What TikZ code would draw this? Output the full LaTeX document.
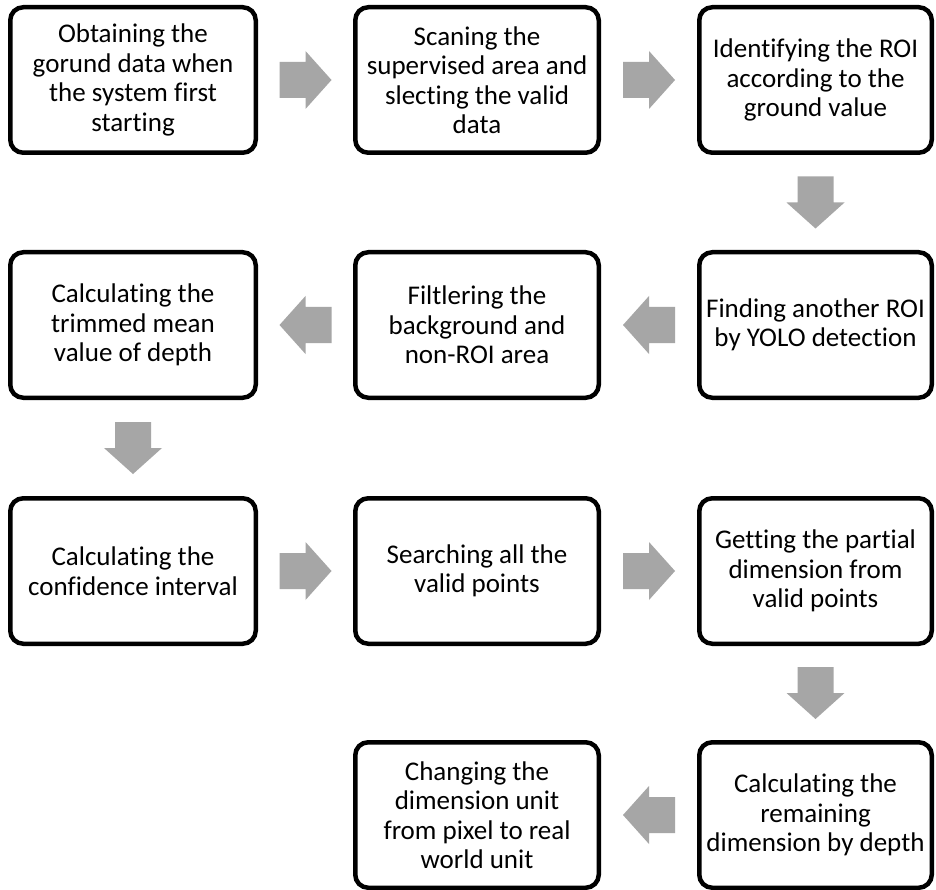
\documentclass[tikz,border=0pt]{standalone}
\usepackage{fontspec}
\setmainfont[Ligatures={NoCommon,NoContextual,NoRare},Contextuals=NoAlternate]{Carlito}
\usetikzlibrary{calc}
\definecolor{flowgray}{HTML}{A6A6A6}
\tikzset{
  stepbox/.style={draw=black, line width=4.5pt, rounded corners=13pt, fill=white,
    align=center, inner sep=0pt, minimum height=145.5pt,
    font=\fontsize{27}{29.5}\selectfont},
  colA/.style={minimum width=245.5pt},
  colB/.style={minimum width=243.5pt},
  colC/.style={minimum width=232.5pt},
  flowfill/.style={fill=flowgray}
}
% block arrow centred between two anchor points, turned by the given angle
\newcommand{\flowarrow}[4][]{%
  \fill[flowfill,#1,shift={($#2!0.5!#3$)},rotate=#4]
    (-26,18) -- (0,18) -- (0,29) -- (26,0) -- (0,-29) -- (0,-18) -- (-26,-18) -- cycle;}
\begin{document}
\begin{tikzpicture}[x=1pt,y=1pt]
  \fill[white] (0,0) rectangle (936,-890);
  \useasboundingbox (0,0) rectangle (936,-890);

  % row 1
  \node[stepbox,colA] (s1) at (133,-80)   {Obtaining the\\gorund data when\\the system first\\starting};
  \node[stepbox,colB] (s2) at (477,-80)   {Scaning the\\supervised area and\\slecting the valid\\data};
  \node[stepbox,colC] (s3) at (815.5,-80) {Identifying the ROI\\according to the\\ground value};
  % row 2
  \node[stepbox,colC] (s4) at (815.5,-325) {Finding another ROI\\by YOLO detection};
  \node[stepbox,colB] (s5) at (477,-325)   {Filtlering the\\background and\\non-ROI area};
  \node[stepbox,colA] (s6) at (133,-325)   {Calculating the\\trimmed mean\\value of depth};
  % row 3
  \node[stepbox,colA] (s7) at (133,-571)   {Calculating the\\confidence interval};
  \node[stepbox,colB] (s8) at (477,-571)   {Searching all the\\valid points};
  \node[stepbox,colC] (s9) at (815.5,-571) {Getting the partial\\dimension from\\valid points};
  % row 4
  \node[stepbox,colC] (s10) at (815.5,-815) {Calculating the\\remaining\\dimension by depth};
  \node[stepbox,colB] (s11) at (477,-815)   {Changing the\\dimension unit\\from pixel to real\\world unit};

  % connectors
  \flowarrow{(s1.east)}{(s2.west)}{0}
  \flowarrow{(s2.east)}{(s3.west)}{0}
  \flowarrow[xshift=5.5pt]{(s3.south)}{(s4.north)}{-90}
  \flowarrow{(s4.west)}{(s5.east)}{180}
  \flowarrow{(s5.west)}{(s6.east)}{180}
  \flowarrow{(s6.south)}{(s7.north)}{-90}
  \flowarrow{(s7.east)}{(s8.west)}{0}
  \flowarrow{(s8.east)}{(s9.west)}{0}
  \flowarrow[xshift=5.5pt]{(s9.south)}{(s10.north)}{-90}
  \flowarrow{(s10.west)}{(s11.east)}{180}
\end{tikzpicture}
\end{document}
